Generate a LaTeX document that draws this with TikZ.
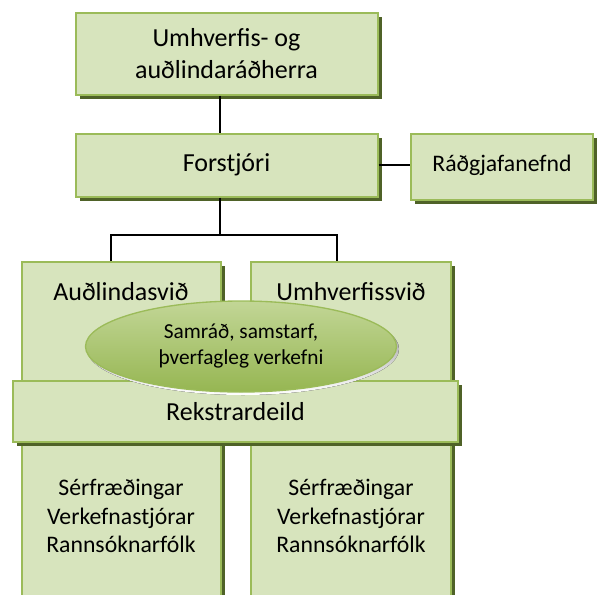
\documentclass[tikz,border=0pt]{standalone}
\usepackage{fontspec}
\setmainfont{Carlito}
\usetikzlibrary{shadows,shapes.geometric}
\definecolor{boxfill}{HTML}{D7E4BD}
\definecolor{boxline}{HTML}{9BBB59}
\definecolor{shade}{HTML}{4F6228}
\definecolor{ellTop}{HTML}{C2D696}
\definecolor{ellMid}{HTML}{A2C060}
\definecolor{ellBot}{HTML}{96B652}
\definecolor{ellLine}{HTML}{9BBB59}
\begin{document}
\begin{tikzpicture}[x=0.75pt,y=-0.75pt,
  box/.style={draw=boxline, fill=boxfill, line width=1.5pt,
    general shadow={shadow xshift=3pt, shadow yshift=-3pt, fill=shade},
    inner sep=0pt, align=center, text=black},
  conn/.style={draw=black, line width=1.3pt},
  lbl/.style={inner sep=0pt, align=center, font=\fontsize{19.5}{24}\selectfont},
  lst/.style={inner sep=0pt, align=center, font=\fontsize{17.8}{21.4}\selectfont}]
\useasboundingbox (0,0) rectangle (601,594);
\clip (0,0) rectangle (601,594);

% coordinates for connectors
\coordinate (jx) at (220,235);
\coordinate (bl) at (111,235);
\coordinate (br) at (337,235);

% columns
\node[box, minimum width=199*0.75pt, minimum height=358*0.75pt] (colL) at (121.5,441) {};
\node[box, minimum width=200*0.75pt, minimum height=358*0.75pt] (colR) at (351,441) {};

% top boxes
\node[box, minimum width=302*0.75pt, minimum height=82*0.75pt,
  font=\fontsize{19.5}{24}\selectfont] (top) at (226.5,53.5) {Umhverfis- og\\auðlindaráðherra};
\node[box, minimum width=302*0.75pt, minimum height=63*0.75pt,
  font=\fontsize{19.5}{24}\selectfont] (forst) at (226.5,165) {Forstjóri};
\node[box, minimum width=182*0.75pt, minimum height=66*0.75pt,
  font=\fontsize{17.8}{21}\selectfont] (radg) at (502,166.5) {\raisebox{4.5pt}{Ráðgjafanefnd}};

% connectors
\draw[conn] (jx |- top.south) -- (jx |- forst.north);
\draw[conn] (jx |- forst.south) -- (jx);
\draw[conn] (forst.east) -- (forst.east -| radg.west);
\draw[conn] (bl |- colL.north) -- (bl) -- (br) -- (br |- colR.north);

% column labels
\node[lbl] (audl) at (121,292) {Auðlindasvið};
\node[lbl] (umhv) at (351,292) {Umhverfissvið};

% lists
\node[lst] (lstL) at (121,516) {Sérfræðingar\\Verkefnastjórar\\Rannsóknarfólk};
\node[lst] (lstR) at (351,516) {Sérfræðingar\\Verkefnastjórar\\Rannsóknarfólk};

% Rekstrardeild
\node[box, minimum width=445*0.75pt, minimum height=61*0.75pt,
  font=\fontsize{19.5}{24}\selectfont] (rekst) at (235.5,411.5) {Rekstrardeild};

% ellipse
\fill[shade] (243,349) ellipse [x radius=156, y radius=46];
\node[ellipse, draw=ellLine, line width=1pt, top color=ellTop, middle color=ellMid, bottom color=ellBot,
  minimum width=311*0.75pt, minimum height=91*0.75pt, inner sep=0pt, align=center,
  font=\fontsize{16}{19.5}\selectfont] (samr) at (241,346.5) {Samráð, samstarf,\\þverfagleg verkefni};
\end{tikzpicture}
\end{document}
